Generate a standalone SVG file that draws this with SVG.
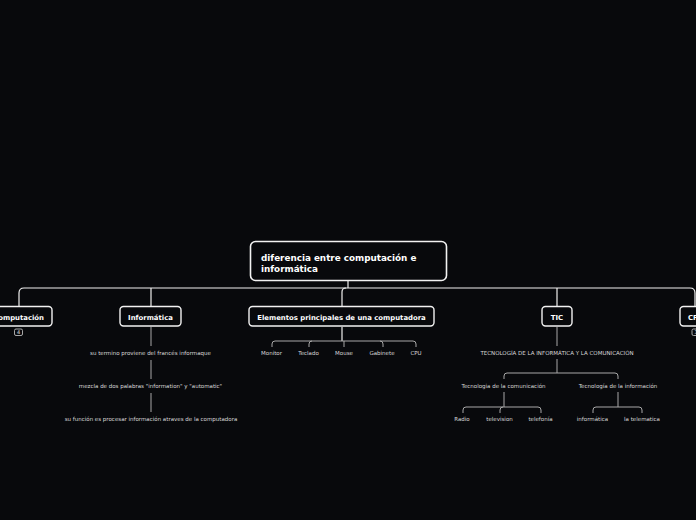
<svg xmlns="http://www.w3.org/2000/svg" width="696" height="520" viewBox="0 0 696 520">
<style>
.bg{fill:#08090c}
.node{fill:#08090c;stroke:#f2f2f2;stroke-width:1.4}
.root{fill:#08090c;stroke:#f2f2f2;stroke-width:1.6}
.t1{font-family:"DejaVu Sans",Verdana,sans-serif;font-weight:bold;fill:#ffffff}
.t0{font-family:"DejaVu Sans",Verdana,sans-serif;font-weight:bold;fill:#ffffff;font-size:8.8px}
.lv1{font-size:6.9px;text-anchor:middle}
.sub{font-family:"DejaVu Sans",Verdana,sans-serif;fill:#d8d8d8;font-size:5.5px;text-anchor:middle}
.main{fill:none;stroke:#f0f0f0;stroke-width:1.2}
.grey{fill:none;stroke:#a8a8a8;stroke-width:1}
.badge{fill:#08090c;stroke:#cfcfcf;stroke-width:0.8}
.bt{font-family:"DejaVu Sans",sans-serif;fill:#e0e0e0;font-size:5px;text-anchor:middle}
</style>
<rect class="bg" x="0" y="0" width="696" height="520"/>
<g id="connectors">
<path class="main" d="M348,281 V288"/>
<path class="main" d="M19,306 V293 Q19,288 24,288 H690 Q695,288 695,293 V306"/>
<path class="main" d="M151,288 V306"/>
<path class="main" d="M342,306 V292 Q342,288 346,288"/>
<path class="main" d="M557,288 V306"/>
<path class="grey" d="M151,327 V346"/>
<path class="grey" d="M151,360 V379"/>
<path class="grey" d="M151,393 V412"/>
<path class="main" d="M342,327 V341"/>
<path class="grey" d="M272,347 V344 Q272,341 275,341 H413 Q416,341 416,344 V347"/>
<path class="grey" d="M309,347 V344 Q309,341 312,341"/>
<path class="grey" d="M344,341 V347"/>
<path class="grey" d="M383,347 V344 Q383,341 380,341"/>
<path class="grey" d="M557,327 V346"/>
<path class="grey" d="M557,359 V373"/>
<path class="grey" d="M504,379 V376 Q504,373 507,373 H615 Q618,373 618,376 V379"/>
<path class="grey" d="M504,392 V407"/>
<path class="grey" d="M463,413 V410 Q463,407 466,407 H538 Q541,407 541,410 V413"/>
<path class="grey" d="M500,413 V410 Q500,407 503,407"/>
<path class="grey" d="M618,392 V407"/>
<path class="grey" d="M593,413 V410 Q593,407 596,407 H639 Q642,407 642,410 V413"/>
</g>
<g id="root">
<rect class="root" x="250.5" y="241.5" width="196" height="39" rx="5"/>
<text class="t0" x="261" y="261">diferencia entre computación e</text>
<text class="t0" x="261" y="271.5">informática</text>
</g>
<g id="computacion">
<rect class="node" x="-24" y="306.5" width="76" height="19.5" rx="3.5"/>
<text class="t1" x="44" y="319.5" font-size="6.9px" text-anchor="end">Computación</text>
<rect class="badge" x="14.5" y="329" width="8" height="6.5" rx="1.5"/>
<text class="bt" x="18.5" y="334">4</text>
</g>
<g id="informatica">
<rect class="node" x="120" y="306.5" width="61" height="19.5" rx="3.5"/>
<text class="t1 lv1" x="150.5" y="319.5">Informática</text>
</g>
<g id="elementos">
<rect class="node" x="249" y="306.5" width="185" height="19.5" rx="3.5"/>
<text class="t1 lv1" x="341.5" y="319.5">Elementos principales de una computadora</text>
</g>
<g id="tic">
<rect class="node" x="542" y="306.5" width="30" height="19.5" rx="3.5"/>
<text class="t1 lv1" x="557" y="319.5">TIC</text>
</g>
<g id="cf">
<rect class="node" x="680" y="306.5" width="40" height="19.5" rx="3.5"/>
<text class="t1" x="688" y="319.5" font-size="6.9px">CF</text>
<rect class="badge" x="692" y="329" width="8" height="6.5" rx="1.5"/>
<text class="bt" x="696" y="334">3</text>
</g>
<g id="inf1"><text class="sub" x="150.5" y="355">su termino proviene del francés informaque</text></g>
<g id="inf2"><text class="sub" x="150.5" y="388">mezcla de dos palabras "information" y "automatic"</text></g>
<g id="inf3"><text class="sub" x="151" y="421">su función es procesar información atraves de la computadora</text></g>
<g id="monitor"><text class="sub" x="271.5" y="355">Monitor</text></g>
<g id="teclado"><text class="sub" x="308.5" y="355">Teclado</text></g>
<g id="mouse"><text class="sub" x="344" y="355">Mouse</text></g>
<g id="gabinete"><text class="sub" x="382" y="355">Gabinete</text></g>
<g id="cpu"><text class="sub" x="416" y="355">CPU</text></g>
<g id="tic-def"><text class="sub" x="557" y="355">TECNOLOGÍA DE LA INFORMÁTICA Y LA COMUNICACIÓN</text></g>
<g id="tec-com"><text class="sub" x="503.5" y="388">Tecnologia de la comunicación</text></g>
<g id="tec-inf"><text class="sub" x="618" y="388">Tecnología de la información</text></g>
<g id="radio"><text class="sub" x="462" y="421">Radio</text></g>
<g id="television"><text class="sub" x="499.5" y="421">television</text></g>
<g id="telefonia"><text class="sub" x="540.5" y="421">telefonía</text></g>
<g id="informatica2"><text class="sub" x="592.5" y="421">informática</text></g>
<g id="telematica"><text class="sub" x="642" y="421">la telematica</text></g>
</svg>
